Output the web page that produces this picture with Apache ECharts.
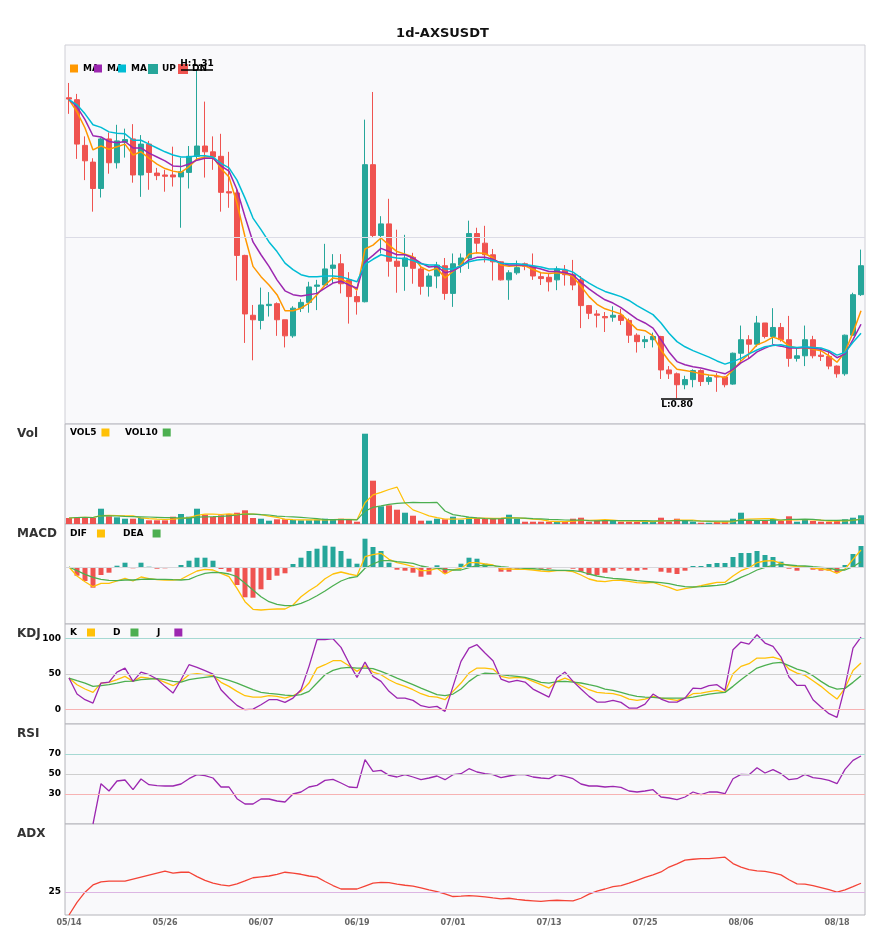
<!DOCTYPE html>
<html>
<head>
<meta charset="utf-8">
<title>1d-AXSUSDT</title>
<script src="https://cdn.jsdelivr.net/npm/echarts@6/dist/echarts.min.js"></script>
<style>
  html, body { margin: 0; padding: 0; background: #fff; }
  #chart { width: 885px; height: 950px; }
</style>
</head>
<body>
<div id="chart"></div>
<script>
// daily bars, 05/14 .. 08/21
var dates = [
  '05/14','05/15','05/16','05/17','05/18','05/19','05/20','05/21','05/22','05/23',
  '05/24','05/25','05/26','05/27','05/28','05/29','05/30','05/31','06/01','06/02',
  '06/03','06/04','06/05','06/06','06/07','06/08','06/09','06/10','06/11','06/12',
  '06/13','06/14','06/15','06/16','06/17','06/18','06/19','06/20','06/21','06/22',
  '06/23','06/24','06/25','06/26','06/27','06/28','06/29','06/30','07/01','07/02',
  '07/03','07/04','07/05','07/06','07/07','07/08','07/09','07/10','07/11','07/12',
  '07/13','07/14','07/15','07/16','07/17','07/18','07/19','07/20','07/21','07/22',
  '07/23','07/24','07/25','07/26','07/27','07/28','07/29','07/30','07/31','08/01',
  '08/02','08/03','08/04','08/05','08/06','08/07','08/08','08/09','08/10','08/11',
  '08/12','08/13','08/14','08/15','08/16','08/17','08/18','08/19','08/20','08/21'
];

var openP = [
  1.267,1.264,1.193,1.167,1.126,1.203,1.166,1.198,1.203,1.147,
  1.195,1.150,1.147,1.147,1.144,1.151,1.176,1.192,1.183,1.176,
  1.121,1.119,1.022,0.929,0.921,0.944,0.947,0.922,0.897,0.940,
  0.949,0.974,0.976,1.002,1.009,0.984,0.958,0.950,1.163,1.053,
  1.071,1.013,1.005,1.019,1.001,0.974,0.990,1.006,0.963,1.007,
  1.018,1.056,1.041,1.023,1.012,0.984,0.995,1.009,1.005,0.989,
  0.988,0.984,0.999,0.992,0.984,0.944,0.931,0.927,0.926,0.929,
  0.921,0.898,0.888,0.891,0.896,0.844,0.838,0.821,0.829,0.843,
  0.826,0.834,0.833,0.822,0.870,0.891,0.884,0.917,0.896,0.910,
  0.891,0.862,0.866,0.891,0.867,0.865,0.850,0.838,0.898,0.961
];
var closeP = [
  1.265,1.195,1.169,1.126,1.203,1.166,1.200,1.202,1.147,1.195,
  1.151,1.146,1.145,1.144,1.152,1.176,1.192,1.183,1.175,1.120,
  1.119,1.022,0.931,0.922,0.945,0.946,0.922,0.897,0.940,0.949,
  0.973,0.976,1.001,1.007,0.978,0.958,0.950,1.163,1.053,1.071,
  1.013,1.005,1.018,1.002,0.974,0.990,1.007,0.963,1.009,1.018,
  1.056,1.041,1.023,1.012,0.984,0.995,1.003,1.005,0.990,0.986,
  0.981,1.001,0.992,0.976,0.944,0.932,0.929,0.925,0.929,0.921,
  0.898,0.888,0.891,0.896,0.844,0.838,0.821,0.829,0.843,0.826,
  0.832,0.833,0.821,0.870,0.891,0.884,0.917,0.896,0.910,0.891,
  0.862,0.866,0.891,0.866,0.865,0.850,0.838,0.898,0.961,1.006
];
var lowP = [
  1.242,1.172,1.139,1.090,1.112,1.149,1.157,1.174,1.135,1.113,
  1.124,1.139,1.121,1.129,1.065,1.126,1.169,1.143,1.155,1.090,
  1.096,0.983,0.886,0.859,0.907,0.927,0.897,0.879,0.894,0.934,
  0.933,0.937,0.974,0.979,0.963,0.916,0.930,0.949,1.050,1.025,
  0.989,0.964,0.967,0.978,0.961,0.958,0.971,0.953,0.942,0.995,
  1.001,1.025,1.011,0.983,0.983,0.953,0.992,0.999,0.984,0.976,
  0.966,0.968,0.975,0.968,0.909,0.923,0.910,0.903,0.919,0.914,
  0.886,0.871,0.878,0.879,0.830,0.830,0.800,0.814,0.817,0.819,
  0.821,0.810,0.817,0.821,0.854,0.862,0.880,0.893,0.884,0.888,
  0.849,0.857,0.850,0.862,0.858,0.845,0.832,0.835,0.897,0.959
];
var highP = [
  1.290,1.273,1.207,1.173,1.205,1.213,1.225,1.219,1.226,1.209,
  1.200,1.158,1.155,1.191,1.174,1.192,1.310,1.261,1.207,1.211,
  1.183,1.125,1.023,0.945,0.972,0.965,0.949,0.922,0.943,0.954,
  0.981,0.984,1.040,1.024,1.024,0.996,0.967,1.233,1.276,1.083,
  1.110,1.062,1.054,1.026,1.006,0.994,1.012,1.018,1.025,1.025,
  1.076,1.065,1.068,1.032,1.013,0.999,1.014,1.011,1.025,0.995,
  0.993,1.005,1.007,1.015,0.990,0.945,0.937,0.934,0.943,0.939,
  0.924,0.901,0.897,0.902,0.897,0.850,0.840,0.835,0.845,0.845,
  0.836,0.839,0.834,0.871,0.913,0.898,0.928,0.917,0.940,0.917,
  0.928,0.878,0.913,0.897,0.878,0.875,0.851,0.899,0.964,1.031
];

var ma5 = [
  1.264,1.245,1.220,1.186,1.192,1.187,1.191,1.195,1.178,1.183,
  1.173,1.164,1.157,1.153,1.151,1.160,1.172,1.175,1.175,1.157,
  1.144,1.103,1.051,1.005,0.989,0.976,0.961,0.936,0.936,0.940,
  0.948,0.961,0.976,0.987,0.985,0.979,0.968,1.032,1.038,1.049,
  1.038,1.028,1.024,1.020,1.004,0.998,1.002,0.987,0.997,1.008,
  1.024,1.026,1.025,1.018,1.007,1.005,1.006,1.006,1.000,0.995,
  0.994,0.995,0.994,0.989,0.974,0.958,0.946,0.939,0.935,0.931,
  0.919,0.907,0.905,0.897,0.875,0.858,0.845,0.843,0.841,0.838,
  0.836,0.835,0.832,0.844,0.858,0.869,0.883,0.888,0.895,0.891,
  0.881,0.878,0.879,0.876,0.874,0.866,0.856,0.872,0.902,0.936
];
var ma10 = [
  1.264,1.253,1.233,1.208,1.206,1.199,1.197,1.199,1.189,1.189,
  1.181,1.175,1.169,1.161,1.160,1.164,1.170,1.173,1.173,1.161,
  1.153,1.124,1.082,1.043,1.023,1.005,0.984,0.967,0.961,0.959,
  0.961,0.963,0.971,0.979,0.982,0.976,0.971,1.012,1.022,1.033,
  1.028,1.023,1.023,1.018,1.010,1.004,1.005,0.995,0.998,1.005,
  1.015,1.019,1.019,1.016,1.010,1.007,1.007,1.007,1.004,1.001,
  0.997,0.997,0.995,0.992,0.980,0.970,0.961,0.953,0.948,0.941,
  0.932,0.923,0.917,0.909,0.891,0.872,0.857,0.852,0.849,0.847,
  0.844,0.841,0.838,0.845,0.855,0.862,0.872,0.878,0.883,0.881,
  0.878,0.878,0.879,0.878,0.876,0.872,0.863,0.869,0.891,0.915
];
var ma20 = [
  1.264,1.256,1.242,1.225,1.221,1.214,1.212,1.211,1.201,1.201,
  1.195,1.189,1.183,1.178,1.175,1.175,1.177,1.177,1.175,1.165,
  1.158,1.139,1.111,1.080,1.062,1.043,1.028,1.010,1.000,0.992,
  0.989,0.989,0.990,0.990,0.989,0.985,0.981,1.008,1.016,1.023,
  1.020,1.018,1.017,1.014,1.009,1.007,1.007,1.001,1.001,1.006,
  1.012,1.015,1.016,1.014,1.010,1.009,1.009,1.008,1.006,1.004,
  1.001,1.001,1.000,0.996,0.987,0.979,0.972,0.966,0.962,0.958,
  0.952,0.944,0.937,0.930,0.917,0.901,0.888,0.880,0.874,0.869,
  0.864,0.858,0.853,0.857,0.862,0.869,0.875,0.880,0.882,0.883,
  0.880,0.879,0.880,0.879,0.878,0.874,0.867,0.871,0.887,0.901
];

// volume in millions
var vol = [
  6.0,7.0,7.0,6.0,15.3,7.7,6.7,5.3,5.3,6.0,
  3.7,3.7,3.7,7.3,10.0,7.3,15.3,9.3,7.0,8.7,
  10.0,11.3,13.7,6.0,5.3,3.3,4.7,4.7,4.0,3.7,
  3.7,4.3,5.3,4.3,5.3,4.3,2.3,90.3,43.3,17.7,
  18.7,14.3,11.3,8.3,3.3,3.3,5.3,4.7,7.3,4.3,
  6.7,6.0,5.3,6.0,5.3,9.3,5.3,2.3,2.3,2.3,
  2.3,2.3,2.3,5.3,6.3,2.3,3.7,3.7,3.7,2.3,
  2.3,2.3,2.3,3.0,6.3,2.3,5.3,3.0,2.3,1.3,
  1.3,2.0,2.3,5.3,11.3,4.0,3.0,3.0,5.0,3.0,
  7.7,2.3,4.3,3.0,2.3,2.3,3.0,4.7,6.3,8.7
];
var vol5 = [
  6.0,6.5,6.7,6.5,8.3,8.6,8.5,8.2,8.1,6.2,
  5.4,4.8,4.5,4.9,5.7,6.4,8.7,9.8,9.8,9.5,
  10.1,9.3,10.1,9.9,9.3,7.9,6.6,4.8,4.4,4.1,
  4.2,4.1,4.2,4.3,4.6,4.7,4.3,21.3,29.1,31.6,
  34.5,36.9,21.1,14.1,11.2,8.1,6.3,5.0,4.8,5.0,
  5.7,5.8,5.9,5.7,5.9,6.4,6.2,5.6,4.9,4.3,
  2.9,2.3,2.3,2.9,3.7,3.7,4.0,4.3,3.9,3.1,
  3.1,2.9,2.6,2.4,3.2,3.2,3.8,4.0,3.8,2.8,
  2.6,2.0,1.8,2.4,4.4,5.0,5.2,5.3,5.3,3.6,
  4.3,4.2,4.5,4.1,3.9,2.8,3.0,3.1,3.7,5.0
];
var vol10 = [
  6.0,6.5,6.7,6.5,8.3,8.2,8.0,7.6,7.4,7.2,
  7.0,6.7,6.3,6.5,5.9,5.9,6.8,7.2,7.3,7.6,
  8.2,9.0,10.0,9.9,9.4,9.0,7.9,7.5,7.2,6.7,
  6.0,5.3,4.5,4.3,4.3,4.4,4.2,12.8,16.7,18.1,
  19.6,20.6,21.2,21.6,21.4,21.3,21.6,13.0,9.4,8.1,
  6.9,6.1,5.5,5.2,5.4,6.0,6.0,5.8,5.3,5.1,
  4.6,4.3,4.0,3.9,4.0,3.3,3.1,3.3,3.4,3.4,
  3.4,3.4,3.4,3.2,3.2,3.2,3.4,3.3,3.1,3.0,
  2.9,2.9,2.9,3.1,3.6,3.8,3.6,3.6,3.9,4.0,
  4.7,4.7,4.9,4.7,3.8,3.6,3.6,3.8,3.9,4.5
];

// MACD in thousandths
var dif = [
  0,-9,-14.7,-19.7,-16.3,-16.3,-14,-11.3,-14,-10,
  -11.7,-12.7,-13,-13,-12.3,-8,-4,-2.3,-3,-6.3,
  -9.7,-21.3,-34.7,-42.3,-43,-42.3,-42,-42,-38,-29.7,
  -23.7,-18.7,-11.7,-7,-5,-7,-8.7,10.3,12.3,13.7,
  7.7,4.3,2.7,0.3,-3.7,-3.7,-1.3,-7,-3,-1.3,
  4.3,4.3,3,2,-2,-2,-2.3,-2.3,-3,-4,
  -4.7,-3.7,-3.7,-4.7,-8,-12,-14,-14.7,-13.3,-13.3,
  -14.3,-15.7,-16,-15.3,-18,-20.3,-23.3,-21.7,-20.3,-18.7,
  -17,-15.3,-15.3,-9,-3.7,-0.7,4.3,6,6.3,3.7,
  1.3,0.3,0.3,-1,-2,-3,-6.3,-2,7.7,17
];
var dea = [
  0,-3.7,-7.3,-10.3,-12.3,-13.3,-13.7,-13,-13,-12.3,
  -12,-12.3,-12.3,-12.7,-13,-12.3,-9,-6.3,-5.3,-5.7,
  -7,-9.7,-16.3,-23,-29.7,-34.7,-37.3,-38.7,-38.7,-36.3,
  -33,-28.7,-24,-18.7,-14,-11,-9.7,-1.3,3,6.3,
  6.3,5.3,4.7,3.7,1,-0.3,-1,-2.3,-3,-3,
  -0.7,1.3,1.7,1.3,0.3,-0.3,-0.7,-1.3,-1.7,-2.3,
  -3,-3.3,-3.3,-3.7,-4.7,-7,-9,-10.3,-11.3,-12,
  -12.7,-13.7,-14.3,-15,-15.7,-16.7,-18.3,-19.7,-20,-19.7,
  -19,-18.3,-17.3,-14.3,-10.3,-7,-3,-0.3,1.7,2.7,
  2,1.3,1,0.3,-0.3,-1,-3,-3,0.3,5.3
];
var macdHist = [
  0,-8.7,-14,-20.7,-8,-5.7,1.3,4.3,-1.3,4.3,
  0.3,-1.7,-1.3,0,2,6.3,9.3,9.3,6.3,-2,
  -4.7,-18,-30.3,-30.7,-22.3,-13,-8.7,-6.3,3,9.3,
  16,18.3,21.3,20.3,16,8.3,3.3,28.3,20,16,
  4.3,-2.7,-3.7,-5.7,-9.7,-7.7,1.7,-6.3,-0.7,3.3,
  9.3,8.3,3.3,0,-4.7,-4.7,-1.7,-1.7,-1.7,-1.7,
  -1.7,0,0,-1.7,-4.7,-8,-8,-5.7,-3.7,-1.7,
  -3.7,-3.7,-2.7,0,-4.7,-5.7,-7,-3.7,1,1,
  3,4,4,10,14,14,16,12,10,5.3,
  -1.7,-3.7,-0.7,-2.7,-3.7,-3.7,-5.7,2,13,21
];

var kLine = [
  44.3,35,29,24.3,37.3,38.3,42,46.7,39.7,45.7,
  44.3,43,38.3,33.6,39.7,49,50.4,49,47.6,38.3,
  32.7,25.7,19.6,17.7,17.7,19.6,18.7,16.3,19.6,25.7,
  37.3,58.3,63,68.6,68.6,61.6,53.7,61.6,52.7,49,
  42,36.4,32.7,28,22.4,18.7,17.7,14,25.7,37.3,
  51.3,58.3,58.3,56.9,46.7,44.3,45.3,44.3,39.7,35,
  30.3,39.7,44.3,39.7,33.6,28,24.3,23.3,22.4,19.6,
  14.9,13.1,14.9,18.7,16.3,14.9,13.1,16.3,22.4,23.3,
  25.2,27.1,24.3,50.4,60.7,64.4,72.3,72.3,73.7,70,
  56.9,51.3,48.1,40.6,32.7,23.3,14.9,30.3,55,65.3
];
var dLine = [
  44.3,40.6,37.3,32.7,33.6,35,37.3,39.7,40.1,42,
  43,43.4,42,39.7,38.7,42,43.9,45.3,46.7,44.3,
  41,37.3,32.7,28,24.3,22.9,21.9,20.5,19.6,21,
  25.7,37.3,49,55,58.3,59.3,58.3,58.3,57.4,53.7,
  49,44.3,39.7,35,30.3,25.7,21,19.6,21.9,28.9,
  39.7,47.6,51.3,50.4,49,47.6,46.7,45.3,42,38.3,
  37.3,39.2,39.7,38.7,37.4,35,32.7,28.9,27.1,24.3,
  21,18.7,17.7,17.3,16.3,16.3,16.3,16.3,17.7,19.6,
  21.9,23.3,24.3,32.7,42,50.4,58.3,62.1,65.3,66.3,
  61.6,56.9,53.7,47.6,39.7,32.7,28.9,29.9,38.3,47.6
];
var jLine = [
  44.3,21.9,14,9.3,37.3,38.7,52.7,58.3,39.7,52.7,
  49,43,32.7,23.3,42,63,59.3,54.6,49.9,28,
  16.3,6.1,0,0.9,7,14,14,10.3,16.3,28,
  60.7,98,98,99.4,87.3,65.3,45.3,66.7,46.7,39.7,
  25.7,16.3,16.3,13.1,5.6,3.3,4.7,-2.3,32.7,67.7,
  86.3,91,79.3,68.6,42.9,38.7,41,38.7,28.9,23.3,
  17.7,44.3,52.7,39.7,28.9,18.7,10.7,10.7,13.1,10.3,
  2.3,2.3,7.9,21.9,14.9,10.7,10.7,16.3,30.3,29.4,
  33.6,35,27.1,84,94.7,91.9,105,93.3,88.7,73.7,
  45.7,34,34,14,3.7,-5.6,-10.7,32.7,86.3,101.7
];

var rsi = [
  null,null,null,0,40.3,33,43,44,34.3,45,
  39.3,38.3,38,38,40,45.3,49.3,48.3,46,37,
  37,25.3,20,20,25,25,23,22,30,32,
  37,38.6,43.6,44.6,41,37,36.3,64.3,52.6,53.6,
  48.6,47,49.3,47,44.3,46,48,44.3,49.3,50.3,
  55.3,52,50.3,49.3,46.3,48,49.3,49.3,47,46,
  45.3,49.3,47.6,45.3,40,38,38,37,37.6,36.6,
  33,32,33,34.3,27,26,24.3,27,32,29.3,
  32,32,30.3,45.3,49.6,49.3,56.3,51,54.3,50.3,
  44.3,45.3,49.6,46.3,45.3,43.6,40.3,54.6,63.6,68
];

var adx = [
  17,21.4,24.9,27.4,28.5,28.7,28.7,28.7,29.4,30.1,
  30.8,31.5,32.2,31.5,31.8,31.8,30.3,29,28,27.4,
  27.1,27.8,28.8,29.9,30.2,30.5,31.1,31.8,31.5,31.1,
  30.5,30.1,28.6,27.2,26,26,26,27,28,28.3,
  28.2,27.7,27.3,27,26.4,25.7,25.1,24.3,23.4,23.5,
  23.7,23.5,23.3,22.9,22.6,22.8,22.4,22.1,21.9,21.7,
  22,22.1,22,21.9,22.8,24.2,25.3,26,26.8,27.2,
  28,29,30,30.9,31.9,33.6,34.7,36,36.3,36.5,
  36.5,36.8,37,34.8,33.6,32.7,32.3,32.1,31.6,30.9,
  29.2,27.8,27.7,27.2,26.5,25.8,24.9,25.7,26.8,28
];

var kdjTicks = [0, 50, 100];
var rsiTicks = [30, 50, 70];
var adxTicks = [25];

var UP = '#26a69a', DN = '#ef5350';
var FONT = 'DejaVu Sans';

// split candles by direction, colour bars
var upK = [], dnK = [], volBars = [], histBars = [];
for (var i = 0; i < dates.length; i++) {
  var k = [openP[i], closeP[i], lowP[i], highP[i]];
  var isUp = closeP[i] >= openP[i];
  upK.push(isUp ? k : ['-', '-', '-', '-']);
  dnK.push(isUp ? ['-', '-', '-', '-'] : k);
  volBars.push({ value: vol[i], itemStyle: { color: isUp ? UP : DN } });
  histBars.push({ value: macdHist[i], itemStyle: { color: macdHist[i] >= 0 ? UP : DN } });
}
var hiVal = Math.max.apply(null, highP), hiIdx = highP.indexOf(hiVal);
var loVal = Math.min.apply(null, lowP), loIdx = lowP.indexOf(loVal);

var tops = [45, 424, 524, 624, 724, 824];
var heights = [379, 100, 100, 100, 100, 91];
var grids = tops.map(function (t, n) {
  return {
    left: 65, right: 20, top: t, height: heights[n],
    show: true, backgroundColor: '#f9f9fb',
    borderColor: n === 0 ? '#cfcfd6' : '#b4b4ba', borderWidth: 1
  };
});

function xAx(gi) {
  return {
    type: 'category', gridIndex: gi, data: dates, boundaryGap: true,
    axisLine: { show: false }, axisTick: { show: false }, splitLine: { show: false },
    axisLabel: gi === 5 ? {
      interval: 11, margin: 4, color: '#666', fontSize: 8, fontWeight: 'bold', fontFamily: FONT
    } : { show: false }
  };
}
function yAx(gi, min, max, interval, ticks) {
  var ax = {
    type: 'value', gridIndex: gi, min: min, max: max,
    axisLine: { show: false }, axisTick: { show: false }, splitLine: { show: false },
    axisLabel: { show: false }
  };
  if (ticks) {
    ax.interval = interval;
    ax.axisLabel = {
      show: true, margin: 4, color: '#000', fontSize: 9, fontWeight: 'bold', fontFamily: FONT,
      formatter: function (v) { return ticks.indexOf(Math.round(v * 10) / 10) >= 0 ? String(v) : ''; }
    };
  }
  return ax;
}
function hLines(list) {
  return {
    silent: true, symbol: ['none', 'none'], animation: false, label: { show: false },
    data: list.map(function (d) {
      return { yAxis: d[0], lineStyle: { color: d[1], width: 1, type: 'solid' } };
    })
  };
}
function line(name, data, color, xi, width, extra) {
  var s = {
    name: name, type: 'line', data: data, xAxisIndex: xi, yAxisIndex: xi,
    symbol: 'none', showSymbol: false, connectNulls: false,
    lineStyle: { color: color, width: width || 1.3 }, itemStyle: { color: color }
  };
  if (extra) { for (var key in extra) s[key] = extra[key]; }
  return s;
}
function legendItem(name, left, top, align, fmt, padRight) {
  return {
    data: [name], left: left, top: top, padding: 0, align: align || 'left',
    icon: 'rect', itemWidth: 8, itemHeight: 8, itemGap: 0, selectedMode: false,
    formatter: fmt || '{name}',
    textStyle: { fontSize: 9, fontWeight: 'bold', color: '#000', fontFamily: FONT,
                 padding: [0, padRight || 0, 0, 0] }
  };
}
function panelTitle(text, top) {
  return { text: text, left: 17, top: top, padding: 0,
           textStyle: { fontSize: 12, fontWeight: 'bold', color: '#333', fontFamily: FONT } };
}

var option = {
  animation: false,
  backgroundColor: '#fff',
  textStyle: { fontFamily: FONT },
  title: [
    { text: '1d-AXSUSDT', left: 'center', top: 27, padding: 0,
      textStyle: { fontSize: 13, fontWeight: 'bold', color: '#111', fontFamily: FONT } },
    panelTitle('Vol', 428), panelTitle('MACD', 528), panelTitle('KDJ', 628),
    panelTitle('RSI', 728), panelTitle('ADX', 828)
  ],
  legend: [
    legendItem('MA5', 70, 64, 'left', 'MA'),
    legendItem('MA10', 94, 64, 'left', 'MA'),
    legendItem('MA20', 118, 64, 'left', 'MA'),
    legendItem('UP', 148, 64),
    legendItem('DN', 178, 64),
    legendItem('VOL5', 70, 428, 'right'),
    legendItem('VOL10', 125, 428, 'right'),
    legendItem('DIF', 70, 529, 'right', null, 5),
    legendItem('DEA', 123, 529, 'right', null, 4),
    legendItem('K', 70, 628, 'right', null, 5),
    legendItem('D', 113, 628, 'right', null, 5),
    legendItem('J', 157, 628, 'right', null, 9)
  ],
  grid: grids,
  xAxis: [xAx(0), xAx(1), xAx(2), xAx(3), xAx(4), xAx(5)],
  yAxis: [
    yAx(0, 0.76, 1.349),
    yAx(1, 0, 100),
    yAx(2, -57, 43),
    yAx(3, -20, 120, 10, kdjTicks),
    yAx(4, 0, 100, 10, rsiTicks),
    yAx(5, 17, 48.5, 1, adxTicks)
  ],
  series: [
    {
      name: 'UP', type: 'candlestick', data: upK, xAxisIndex: 0, yAxisIndex: 0, barWidth: 6,
      itemStyle: { color: UP, color0: UP, borderColor: UP, borderColor0: UP, borderColorDoji: UP, borderWidth: 1 },
      markLine: {
        silent: true, animation: false, symbol: ['none', 'none'],
        lineStyle: { color: '#000', width: 1.5, type: 'solid' },
        label: { fontSize: 9, fontWeight: 'bold', color: '#000', fontFamily: FONT, distance: 2 },
        data: [
          [{ coord: [hiIdx - 2, hiVal], label: { position: 'insideMiddleTop', formatter: 'H:' + hiVal.toFixed(2) } },
           { coord: [hiIdx + 2, hiVal] }],
          [{ coord: [loIdx - 2, loVal], label: { position: 'insideMiddleBottom', formatter: 'L:' + loVal.toFixed(2) } },
           { coord: [loIdx + 2, loVal] }]
        ]
      }
    },
    {
      name: 'DN', type: 'candlestick', data: dnK, xAxisIndex: 0, yAxisIndex: 0, barWidth: 6,
      itemStyle: { color: DN, color0: DN, borderColor: DN, borderColor0: DN, borderColorDoji: DN, borderWidth: 1 }
    },
    line('MA5', ma5, '#ff9800', 0, 1.5),
    line('MA10', ma10, '#9c27b0', 0, 1.5),
    line('MA20', ma20, '#00bcd4', 0, 1.5, { markLine: hLines([[1.0545, '#dcdce6']]) }),

    { name: 'Volume', type: 'bar', data: volBars, xAxisIndex: 1, yAxisIndex: 1, barWidth: 6 },
    line('VOL5', vol5, '#ffc107', 1, 1.2),
    line('VOL10', vol10, '#4caf50', 1, 1.2),

    { name: 'MACD', type: 'bar', data: histBars, xAxisIndex: 2, yAxisIndex: 2, barWidth: 5,
      markLine: hLines([[0, '#d8d8dc']]) },
    line('DIF', dif, '#ffc107', 2, 1.3),
    line('DEA', dea, '#4caf50', 2, 1.3),

    line('K', kLine, '#ffc107', 3, 1.3, { markLine: hLines([[100, '#a6d9d3'], [50, '#cfcfcf'], [0, '#f7b3b3']]) }),
    line('D', dLine, '#4caf50', 3, 1.3),
    line('J', jLine, '#9c27b0', 3, 1.3),

    line('RSI', rsi, '#9c27b0', 4, 1.3, { markLine: hLines([[70, '#a6d9d3'], [50, '#cfcfcf'], [30, '#f7b3b3']]) }),

    line('ADX', adx, '#f44336', 5, 1.3, { markLine: hLines([[25, '#dcb6e3']]) })
  ]
};

var chart = echarts.init(document.getElementById('chart'), null, { renderer: 'canvas' });
chart.setOption(option);
</script>
</body>
</html>
